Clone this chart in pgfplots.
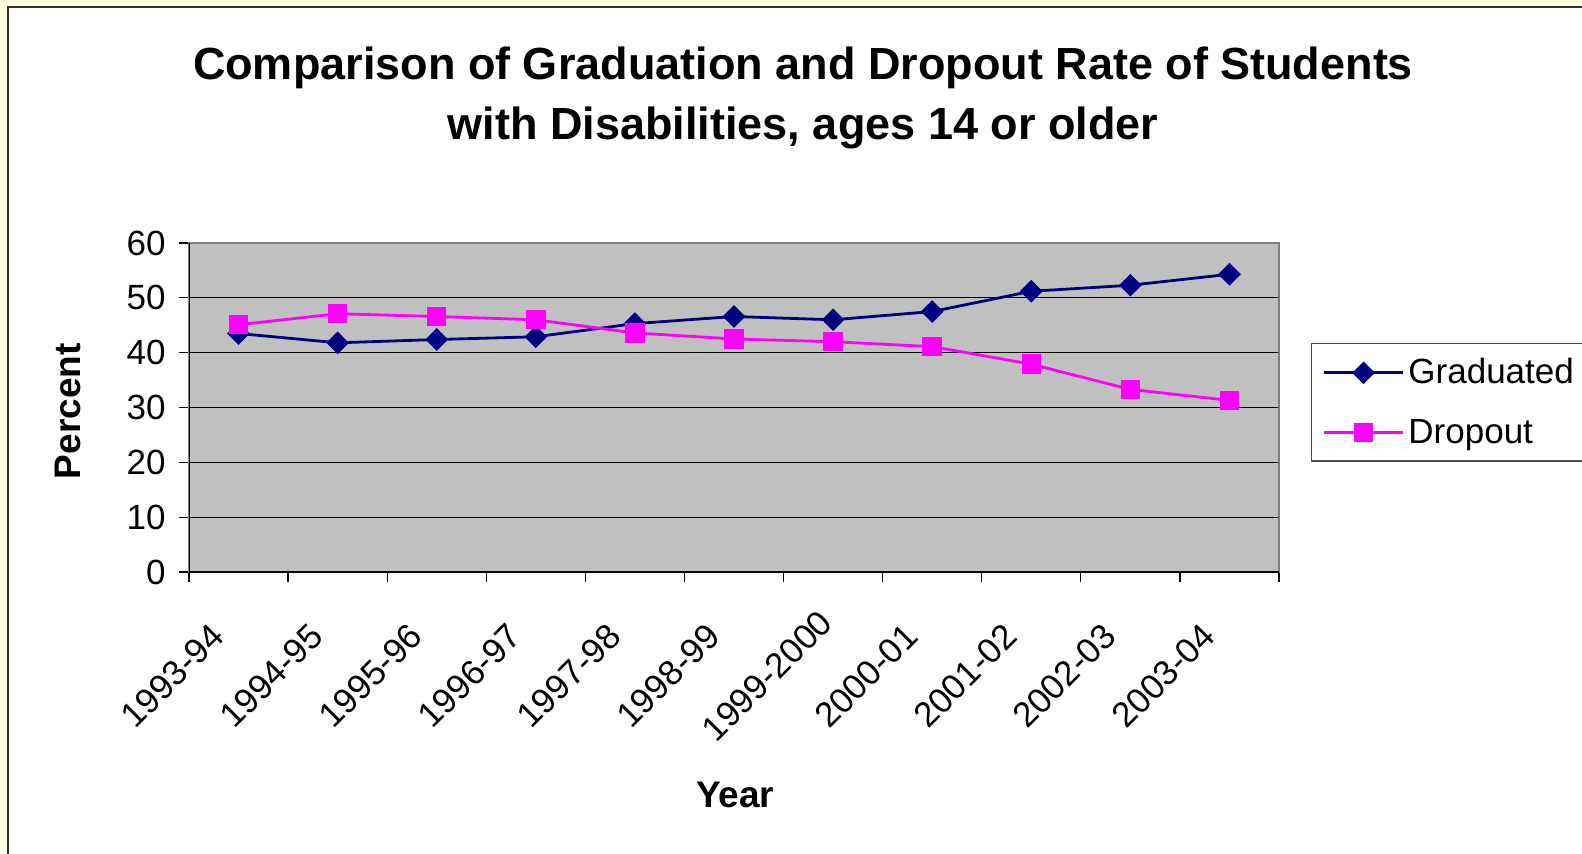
\documentclass[border=0pt]{standalone}
\usepackage{fontspec}
\setmainfont{Liberation Sans}
\usepackage{pgfplots}
\pgfplotsset{compat=1.18}
\definecolor{chartbg}{HTML}{FFFFE0}
\definecolor{plotgray}{HTML}{C0C0C0}
\definecolor{gradnavy}{HTML}{000080}
\definecolor{dropmag}{HTML}{FF00FF}

\begin{document}
\begin{tikzpicture}
\clip (0pt,0pt) rectangle (791pt,426.5pt);
\fill[chartbg] (0pt,0pt) rectangle (791pt,426.5pt);
\filldraw[fill=white, draw=black!80, line width=0.6pt] (4pt,-10pt) rectangle (800pt,423pt);
% two-line chart title
\node[font=\bfseries\fontsize{22.5}{30}\selectfont, anchor=base] at (401.5pt,386.5pt)
  {Comparison of Graduation and Dropout Rate of Students};
\node[font=\bfseries\fontsize{22.5}{30}\selectfont, anchor=base] at (401.5pt,356.5pt)
  {with Disabilities, ages 14 or older};
\begin{axis}[
  at={(94.5pt,140.5pt)}, anchor=south west,
  scale only axis, width=545pt, height=164.5pt,
  xmin=-0.5, xmax=10.5, ymin=0, ymax=60,
  xtick={-0.5,0.5,...,10.5}, xticklabels={},
  extra x ticks={0,1,2,3,4,5,6,7,8,9,10},
  extra x tick labels={1993-94,1994-95,1995-96,1996-97,1997-98,1998-99,1999-2000,2000-01,2001-02,2002-03,2003-04},
  % shifts are along the rotated label frame
  extra x tick style={major tick length=0pt, grid=none,
    tick label style={rotate=45, anchor=center, inner sep=0pt, xshift=-60.1pt, yshift=-13.4pt}},
  ytick={0,10,...,60},
  yticklabel style={xshift=-3.2pt},
  ymajorgrids,
  major grid style={black, line width=0.5pt},
  tick style={black, line width=0.6pt},
  tick align=outside, major tick length=5pt,
  xtick pos=bottom, ytick pos=left,
  axis line style={draw=gray, line width=0.9pt},
  axis background/.style={fill=plotgray},
  tick label style={font=\fontsize{17.5}{21}\selectfont},
  /pgf/number format/assume math mode=true,
  xlabel={Year}, ylabel={Percent},
  every axis x label/.style={at={(axis description cs:0.501,-0.678)}, anchor=center, font=\bfseries\fontsize{18.5}{22}\selectfont},
  every axis y label/.style={at={(axis description cs:-0.111,0.489)}, anchor=center, rotate=90, font=\bfseries\fontsize{18.5}{22}\selectfont},
  legend style={at={(axis description cs:1.0294,0.696)}, anchor=north west,
    draw=black!70, line width=0.6pt, fill=white, inner ysep=5.5pt,
    font=\fontsize{17.5}{21}\selectfont, row sep=12pt},
  legend cell align=left,
  legend image code/.code={\path (0pt,0pt);
    \draw[mark repeat=2,mark phase=2,#1] plot coordinates {(2.5pt,0pt) (22.25pt,0pt) (42pt,0pt)};},
]
\addplot[gradnavy, line width=1.4pt, mark=square*, mark size=3.3pt, mark options={rotate=45, solid}]
  coordinates {(0,43.5) (1,41.8) (2,42.4) (3,42.9) (4,45.3) (5,46.6) (6,46.0) (7,47.5) (8,51.2) (9,52.3) (10,54.3)};
\addlegendentry{Graduated\hspace{16pt}}
\addplot[dropmag, line width=1.4pt, mark=square*, mark size=4.15pt, mark options={solid}]
  coordinates {(0,45.1) (1,47.1) (2,46.6) (3,46.0) (4,43.6) (5,42.5) (6,42.0) (7,41.1) (8,37.9) (9,33.3) (10,31.3)};
\addlegendentry{Dropout}
\draw[black, line width=0.7pt] (rel axis cs:0,1) -- (rel axis cs:0,0) -- (rel axis cs:1,0);
\end{axis}
\end{tikzpicture}
\end{document}
